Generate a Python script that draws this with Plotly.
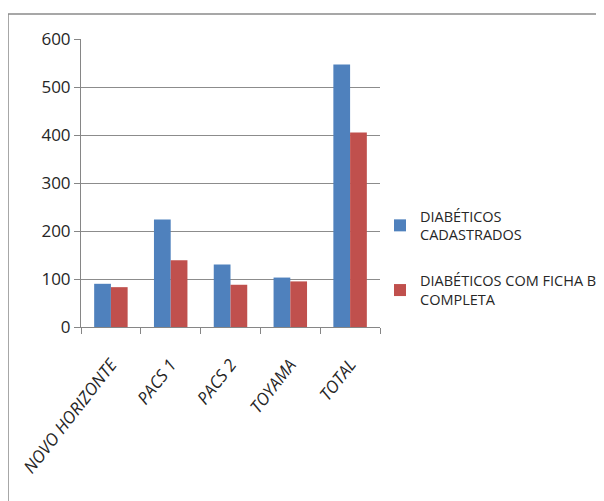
import plotly.graph_objects as go

categories = ["NOVO HORIZONTE", "PACS 1", "PACS 2", "TOYAMA", "TOTAL"]
cadastrados = [90, 224, 130, 103, 547]
ficha_b = [83, 139, 88, 95, 405]
series_names = ["DIABÉTICOS<br>CADASTRADOS", "DIABÉTICOS COM FICHA B<br>COMPLETA"]

W, H = 604, 501
OFF = 8  # page body margin offset
# target plot area in screen pixels: x 81..380, y 39..327
SX0, SX1, SY0, SY1 = 81, 380, 39, 327
L, T = SX0 - OFF, SY0 - OFF
R, B = W - (SX1 - OFF), H - (SY1 - OFF)
pw, ph = SX1 - SX0, SY1 - SY0

def sx(px):
    return (px - SX0) / pw

def sy(py):
    return (SY1 - py) / ph

fig = go.Figure()
fig.add_trace(go.Bar(x=categories, y=cadastrados, name=series_names[0], legendgroup="a",
                     marker=dict(color="#4F81BD", line=dict(width=0))))
fig.add_trace(go.Bar(x=categories, y=ficha_b, name=series_names[1], legendgroup="b",
                     marker=dict(color="#C0504D", line=dict(width=0))))

font_family = "Open Sans, Noto Sans, Liberation Sans, sans-serif"

fig.update_layout(
    width=W, height=H,
    margin=dict(l=L, r=R, t=T, b=B, pad=0, autoexpand=False),
    paper_bgcolor="white", plot_bgcolor="white",
    barmode="group", bargap=0.44, bargroupgap=0,
    font=dict(family=font_family, color="#262626"),
    showlegend=True,
    legend=dict(x=sx(380), y=sy(200), xanchor="left", yanchor="top",
                font=dict(size=14.5, color="#262626"), tracegroupgap=24,
                itemwidth=30, bgcolor="rgba(0,0,0,0)"),
    xaxis=dict(
        type="category", tickangle=-52, ticks="outside", ticklen=6, tickcolor="#868686",
        tickson="boundaries", showline=True, linecolor="#868686", linewidth=1,
        tickfont=dict(size=17, family=font_family, style="italic", color="#262626"),
        ticklabelstandoff=20,
        showgrid=False, automargin=False,
    ),
    yaxis=dict(
        range=[0, 600], dtick=100, tick0=0, ticks="outside", ticklen=6, tickcolor="#868686",
        showline=True, linecolor="#868686", linewidth=1,
        showgrid=True, gridcolor="#8C8C8C", gridwidth=1,
        tickfont=dict(size=17, family=font_family, color="#262626"),
        zeroline=False, automargin=False,
    ),
    shapes=[dict(type="rect", xref="paper", yref="paper",
                 x0=sx(8), x1=sx(640),
                 y0=sy(540), y1=sy(14),
                 line=dict(color="#8A8A8A", width=1.5), fillcolor="rgba(0,0,0,0)",
                 layer="below")],
)

fig.write_html("out.html")
